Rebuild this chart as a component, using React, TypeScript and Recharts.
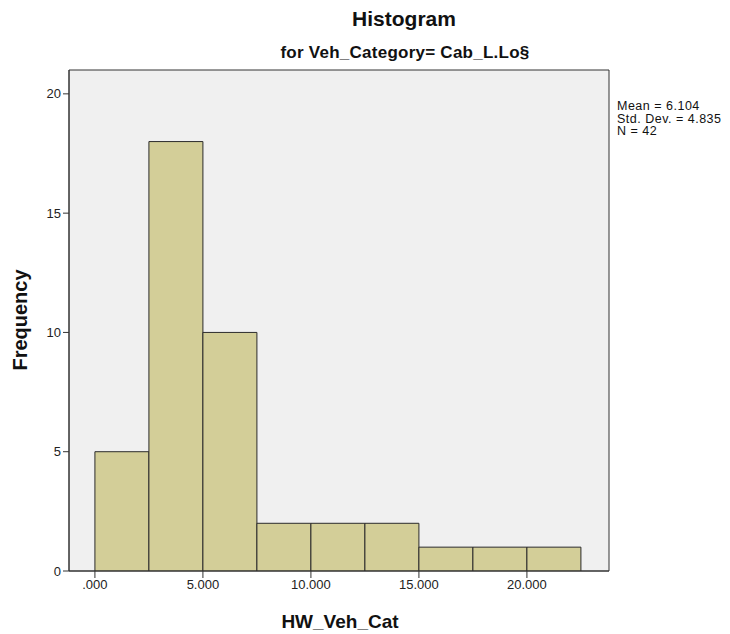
import React from "react";
import {
  BarChart,
  Bar,
  XAxis,
  YAxis,
  CartesianGrid,
  ReferenceArea,
} from "recharts";

const binStarts = [0, 2.5, 5, 7.5, 10, 12.5, 15, 17.5, 20];
const counts = [5, 18, 10, 2, 2, 2, 1, 1, 1];
const binWidth = 2.5;
const xTicks = [0, 5, 10, 15, 20];
const yTicks = [0, 5, 10, 15, 20];
const xDomain: [number, number] = [-1.2, 23.8];
const yDomain: [number, number] = [0, 21];
const statLines = ["Mean = 6.104", "Std. Dev. = 4.835", "N = 42"];

const data = binStarts.map((s, i) => ({ mid: s + binWidth / 2, count: counts[i] }));

const font = "'Liberation Sans', Arial, sans-serif";
const axisColor = "#333333";

const fmtX = (v: number) => (v === 0 ? ".000" : v.toFixed(3));

const App: React.FC = () => {
  return (
    <div style={{ position: "absolute", left: 0, top: 0, width: 730, height: 634, background: "#fff", fontFamily: font }}>
      <BarChart
        width={730}
        height={634}
        data={data}
        margin={{ top: 70, right: 121, left: 39, bottom: 33 }}
        barCategoryGap={0}
        barGap={0}
      >
        <CartesianGrid fill="#f0f0f0" horizontal={false} vertical={false} />
        <XAxis
          type="number"
          dataKey="mid"
          domain={xDomain}
          ticks={xTicks}
          allowDataOverflow
          tickFormatter={fmtX}
          stroke={axisColor}
          tickSize={7}
          height={30}
          tick={{ fill: "#222", fontSize: 13, fontFamily: font }}
        />
        <YAxis
          domain={yDomain}
          ticks={yTicks}
          allowDataOverflow
          stroke={axisColor}
          tickSize={6}
          width={30}
          tick={{ fill: "#222", fontSize: 13, fontFamily: font }}
        />
        <Bar
          dataKey="count"
          fill="#d3ce98"
          stroke="#2b2b2b"
          strokeWidth={1}
          isAnimationActive={false}
        />
        <ReferenceArea
          x1={xDomain[0]}
          x2={xDomain[1]}
          y1={yDomain[0]}
          y2={yDomain[1]}
          fill="none"
          fillOpacity={0}
          stroke={axisColor}
          strokeWidth={1}
        />
        <text x={404} y={26} textAnchor="middle" fontSize={21} fontWeight="bold" fontFamily={font} fill="#111">
          Histogram
        </text>
        <text x={405} y={58} textAnchor="middle" fontSize={17} fontWeight="bold" fontFamily={font} fill="#111" letterSpacing={0.25}>
          for Veh_Category= Cab_L.Lo§
        </text>
        {statLines.map((t, i) => (
          <text key={t} x={617} y={110 + i * 12.5} fontSize={12.5} letterSpacing={0.5} fontFamily={font} fill="#111">
            {t}
          </text>
        ))}
        <text x={340} y={628} textAnchor="middle" fontSize={19} fontWeight="bold" fontFamily={font} fill="#111">
          HW_Veh_Cat
        </text>
        <text
          x={27}
          y={320}
          textAnchor="middle"
          fontSize={20}
          fontWeight="bold"
          fontFamily={font}
          fill="#111"
          transform="rotate(-90, 27, 320)"
        >
          Frequency
        </text>
      </BarChart>
    </div>
  );
};

export default App;
